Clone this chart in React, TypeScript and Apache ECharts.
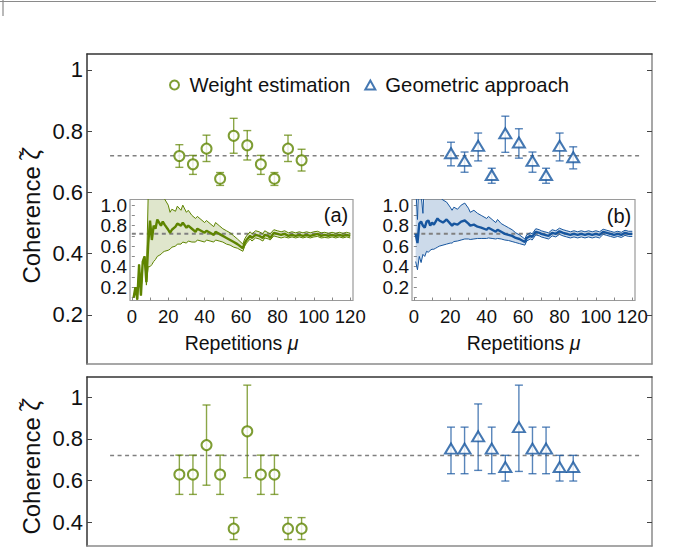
import React, { useEffect, useRef } from 'react';
import * as echarts from 'echarts';

const FONT = '"Liberation Sans", Arial, sans-serif';
const GREEN = '#5e8400';
const GREEN_BAR = 'rgba(94,132,0,0.72)';
const GREEN_FILL = 'rgba(94,132,0,0.2)';
const BLUE = '#17569f';
const BLUE_BAR = 'rgba(23,86,159,0.72)';
const BLUE_FILL = 'rgba(23,86,159,0.22)';

// ---- main panels: repetition positions (x) ----
const weightX = [7, 8, 9, 10, 11, 12, 13, 14, 15, 16];
const geomX = [27, 28, 29, 30, 31, 32, 33, 34, 35, 36];
const target = 0.72;
const targetSpan = [1.9, 41.0];

// top panel
const topWeightY = [0.719, 0.692, 0.743, 0.645, 0.785, 0.754, 0.692, 0.645, 0.743, 0.705];
const topWeightLo = [0.682, 0.659, 0.701, 0.623, 0.728, 0.706, 0.659, 0.623, 0.701, 0.67];
const topWeightHi = [0.756, 0.721, 0.787, 0.665, 0.842, 0.802, 0.721, 0.665, 0.787, 0.741];
const topGeomY = [0.728, 0.703, 0.752, 0.657, 0.793, 0.763, 0.703, 0.657, 0.752, 0.715];
const topGeomLo = [0.687, 0.666, 0.703, 0.63, 0.731, 0.712, 0.666, 0.63, 0.703, 0.677];
const topGeomHi = [0.764, 0.732, 0.794, 0.679, 0.849, 0.808, 0.732, 0.679, 0.794, 0.749];

// bottom panel
const botWeightY = [0.629, 0.629, 0.77, 0.629, 0.37, 0.836, 0.629, 0.629, 0.37, 0.37];
const botWeightLo = [0.534, 0.534, 0.578, 0.534, 0.318, 0.614, 0.534, 0.534, 0.318, 0.318];
const botWeightHi = [0.722, 0.722, 0.962, 0.722, 0.423, 1.057, 0.722, 0.722, 0.423, 0.423];
const botGeomY = [0.753, 0.753, 0.812, 0.753, 0.665, 0.856, 0.753, 0.753, 0.665, 0.665];
const botGeomLo = [0.633, 0.633, 0.649, 0.633, 0.598, 0.644, 0.633, 0.633, 0.598, 0.598];
const botGeomHi = [0.856, 0.856, 0.967, 0.856, 0.721, 1.057, 0.856, 0.856, 0.721, 0.721];

// tick labels
const mainTicks = [0.2, 0.4, 0.6, 0.8, 1.0];
const botTicks = [0.4, 0.6, 0.8, 1.0];
const insetYTicks = [0.2, 0.4, 0.6, 0.8, 1.0];
const insetYMinor = [0.1, 0.2, 0.3, 0.4, 0.5, 0.6, 0.7, 0.8, 0.9, 1.0];
const insetXTicks = [0, 20, 40, 60, 80, 100, 120];
const insetXMinor = [0, 10, 20, 30, 40, 50, 60, 70, 80, 90, 100, 110, 120];

// ---- inset (a): weight estimation running estimate ----
const aMu = [1, 2, 3, 4, 5, 6, 7, 8, 9, 10, 11, 12, 13, 14, 15, 16, 17, 18, 20, 21, 22, 24, 25, 27, 28, 30, 31, 33, 35, 36, 38, 40, 41, 43, 45, 46, 48, 50, 52, 54, 56, 58, 61, 62, 63, 65, 66, 68, 70, 72, 73, 75, 76, 78, 80, 82, 84, 86, 88, 90, 92, 94, 96, 98, 100, 102, 104, 106, 108, 110, 112, 114, 116, 118, 120];
const aMid = [0.1, 0.2, 0.08, 0.42, 0.12, 0.45, 0.5, 0.25, 0.62, 0.85, 0.66, 0.8, 0.77, 0.86, 0.83, 0.8, 0.84, 0.81, 0.76, 0.73, 0.76, 0.79, 0.82, 0.8, 0.83, 0.78, 0.8, 0.77, 0.74, 0.77, 0.75, 0.73, 0.75, 0.73, 0.71, 0.74, 0.72, 0.7, 0.68, 0.66, 0.64, 0.62, 0.58, 0.63, 0.66, 0.7, 0.68, 0.71, 0.7, 0.68, 0.71, 0.7, 0.68, 0.73, 0.72, 0.71, 0.72, 0.7, 0.71, 0.7, 0.71, 0.7, 0.71, 0.7, 0.71, 0.72, 0.7, 0.71, 0.7, 0.71, 0.7, 0.71, 0.7, 0.71, 0.7];
const aHi = [0.1, 0.2, 0.08, 0.42, 0.12, 0.45, 0.5, 0.3, 1.1, 1.3, 1.25, 1.25, 1.2, 1.2, 1.15, 1.12, 1.1, 1.06, 1.0, 0.93, 0.96, 0.94, 0.99, 0.95, 1.0, 0.93, 0.95, 0.9, 0.87, 0.89, 0.86, 0.83, 0.85, 0.82, 0.79, 0.83, 0.8, 0.77, 0.75, 0.73, 0.7, 0.67, 0.62, 0.67, 0.7, 0.74, 0.72, 0.75, 0.74, 0.72, 0.75, 0.73, 0.72, 0.76, 0.75, 0.74, 0.75, 0.73, 0.74, 0.73, 0.74, 0.73, 0.74, 0.73, 0.74, 0.745, 0.73, 0.735, 0.725, 0.735, 0.725, 0.735, 0.725, 0.735, 0.725];
const aLo = [0.1, 0.2, 0.08, 0.42, 0.12, 0.45, 0.5, 0.22, 0.4, 0.4, 0.42, 0.45, 0.47, 0.5, 0.51, 0.52, 0.54, 0.55, 0.56, 0.57, 0.59, 0.6, 0.62, 0.62, 0.64, 0.63, 0.65, 0.64, 0.64, 0.66, 0.65, 0.64, 0.66, 0.65, 0.64, 0.66, 0.65, 0.64, 0.62, 0.61, 0.59, 0.58, 0.55, 0.6, 0.63, 0.67, 0.65, 0.68, 0.67, 0.65, 0.68, 0.67, 0.66, 0.7, 0.69, 0.68, 0.69, 0.68, 0.69, 0.68, 0.69, 0.68, 0.69, 0.68, 0.69, 0.695, 0.68, 0.685, 0.68, 0.69, 0.68, 0.69, 0.68, 0.69, 0.68];

// ---- inset (b): geometric approach running estimate ----
const bMu = [1, 2, 3, 4, 5, 6, 7, 8, 9, 10, 11, 12, 13, 14, 16, 18, 20, 21, 22, 24, 26, 28, 30, 31, 33, 35, 37, 40, 41, 43, 45, 46, 48, 50, 52, 54, 56, 58, 61, 62, 64, 65, 67, 69, 70, 72, 74, 76, 78, 80, 82, 84, 86, 88, 90, 92, 94, 96, 98, 100, 102, 104, 106, 108, 110, 112, 114, 116, 118, 120];
const bMid = [0.72, 0.63, 0.82, 0.84, 0.8, 0.78, 0.84, 0.85, 0.8, 0.83, 0.81, 0.84, 0.87, 0.85, 0.83, 0.86, 0.82, 0.8, 0.82, 0.81, 0.84, 0.85, 0.82, 0.8, 0.81, 0.79, 0.78, 0.76, 0.78, 0.76, 0.74, 0.76, 0.74, 0.72, 0.71, 0.7, 0.68, 0.67, 0.64, 0.68, 0.7, 0.69, 0.74, 0.73, 0.72, 0.71, 0.7, 0.73, 0.72, 0.745, 0.73, 0.72, 0.71, 0.72, 0.71, 0.72, 0.71, 0.72, 0.71, 0.72, 0.71, 0.74, 0.73, 0.72, 0.71, 0.72, 0.71, 0.73, 0.72, 0.72];
const bHi = [1.2, 0.86, 1.3, 1.1, 0.92, 1.3, 1.1, 1.2, 1.1, 1.15, 1.12, 1.1, 1.12, 1.08, 1.05, 1.03, 0.98, 0.95, 0.98, 0.96, 1.0, 1.02, 0.97, 0.93, 0.95, 0.92, 0.9, 0.87, 0.89, 0.86, 0.83, 0.86, 0.82, 0.8, 0.78, 0.76, 0.73, 0.71, 0.67, 0.71, 0.73, 0.72, 0.77, 0.76, 0.75, 0.74, 0.73, 0.76, 0.75, 0.775, 0.76, 0.75, 0.74, 0.75, 0.74, 0.75, 0.74, 0.75, 0.74, 0.75, 0.74, 0.765, 0.755, 0.745, 0.735, 0.745, 0.735, 0.755, 0.745, 0.745];
const bLo = [0.45, 0.37, 0.5, 0.44, 0.52, 0.5, 0.55, 0.54, 0.56, 0.57, 0.57, 0.58, 0.59, 0.6, 0.61, 0.62, 0.63, 0.63, 0.645, 0.65, 0.66, 0.67, 0.67, 0.665, 0.67, 0.675, 0.675, 0.675, 0.68, 0.675, 0.67, 0.675, 0.67, 0.66, 0.655, 0.645, 0.635, 0.625, 0.61, 0.65, 0.67, 0.66, 0.71, 0.7, 0.69, 0.68, 0.67, 0.7, 0.69, 0.715, 0.7, 0.69, 0.68, 0.69, 0.68, 0.69, 0.68, 0.69, 0.68, 0.69, 0.68, 0.715, 0.705, 0.695, 0.685, 0.695, 0.685, 0.705, 0.695, 0.695];

const pairs = (xs: number[], ys: number[]) => xs.map((x, i) => [x, ys[i]]);
const triples = (xs: number[], lo: number[], hi: number[]) => xs.map((x, i) => [x, lo[i], hi[i]]);

const errRender = (color: string) => (params: any, api: any) => {
  const x = api.value(0);
  const lo = api.coord([x, api.value(1)]);
  const hi = api.coord([x, api.value(2)]);
  const st = { stroke: color, lineWidth: 1.4 };
  const c = 4;
  return {
    type: 'group',
    children: [
      { type: 'line', shape: { x1: lo[0], y1: lo[1], x2: hi[0], y2: hi[1] }, style: st },
      { type: 'line', shape: { x1: lo[0] - c, y1: lo[1], x2: lo[0] + c, y2: lo[1] }, style: st },
      { type: 'line', shape: { x1: hi[0] - c, y1: hi[1], x2: hi[0] + c, y2: hi[1] }, style: st },
    ],
  };
};

const bandRender = (mu: number[], lo: number[], hi: number[], fill: string) => (params: any, api: any) => {
  const pts: number[][] = [];
  for (let i = 0; i < mu.length; i++) pts.push(api.coord([mu[i], hi[i]]));
  for (let i = mu.length - 1; i >= 0; i--) pts.push(api.coord([mu[i], lo[i]]));
  const cs = params.coordSys;
  const top = cs.y;
  const bottom = cs.y + cs.height;
  const clipped = pts.map((p) => [p[0], Math.min(bottom, Math.max(top, p[1]))]);
  return { type: 'polygon', shape: { points: clipped }, style: { fill, stroke: 'none' }, silent: true };
};

const mainFmt = (v: number) => (Math.abs(v - 1) < 1e-9 ? '1' : v.toFixed(1));

function buildOption(): any {
  const xMain = (gi: number, pos: string, color: string) => ({
    type: 'value', gridIndex: gi, min: 0.2, max: 41.8, position: pos,
    axisLine: { show: true, onZero: false, lineStyle: { color, width: 1.5 } },
    axisTick: { show: false }, axisLabel: { show: false }, splitLine: { show: false },
  });
  const yMain = (gi: number, min: number, max: number, ticks: number[], pos: string, color: string, labels: boolean) => ({
    type: 'value', gridIndex: gi, min, max, position: pos,
    axisLine: { show: true, onZero: false, lineStyle: { color, width: 1.5 } },
    axisTick: { show: true, inside: true, length: 5, customValues: ticks, lineStyle: { color: '#444', width: 1 } },
    axisLabel: labels
      ? { show: true, customValues: ticks, formatter: mainFmt, fontSize: 22, color: '#111', fontFamily: FONT, margin: 4 }
      : { show: false },
    splitLine: { show: false },
  });
  const xInset = (gi: number) => ({
    type: 'value', gridIndex: gi, min: -1, max: 121.5,
    axisLine: { show: false },
    axisTick: { show: true, inside: true, length: 3, customValues: insetXMinor, lineStyle: { color: '#888' } },
    axisLabel: { show: true, customValues: insetXTicks, fontSize: 18.5, color: '#111', fontFamily: FONT, margin: 6 },
    splitLine: { show: false },
    name: '{a|Repetitions }{b|μ}', nameLocation: 'middle', nameGap: 32,
    nameTextStyle: {
      rich: {
        a: { fontSize: 19.5, color: '#111', fontFamily: FONT },
        b: { fontSize: 19.5, color: '#111', fontFamily: FONT, fontStyle: 'italic' },
      },
    },
  });
  const yInset = (gi: number) => ({
    type: 'value', gridIndex: gi, min: 0.07, max: 1.055,
    axisLine: { show: false },
    axisTick: { show: true, inside: true, length: 3, customValues: insetYMinor, lineStyle: { color: '#888' } },
    axisLabel: { show: true, customValues: insetYTicks, formatter: (v: number) => v.toFixed(1), fontSize: 19, color: '#111', fontFamily: FONT, margin: 3 },
    splitLine: { show: false },
  });

  const scatter = (name: string, xi: number, yi: number, xs: number[], ys: number[], sym: string, color: string, size: any) => ({
    type: 'scatter', name, xAxisIndex: xi, yAxisIndex: yi, data: pairs(xs, ys),
    symbol: sym, symbolSize: size, itemStyle: { color, borderWidth: 2.2 }, z: 5,
  });
  const errors = (xi: number, yi: number, xs: number[], lo: number[], hi: number[], color: string) => ({
    type: 'custom', xAxisIndex: xi, yAxisIndex: yi, renderItem: errRender(color),
    data: triples(xs, lo, hi), encode: { x: 0, y: [1, 2] }, z: 3, silent: true,
  });
  const dashed = (xi: number, yi: number, xs: number[], w: number) => ({
    type: 'line', xAxisIndex: xi, yAxisIndex: yi, data: xs.map((x) => [x, target]),
    showSymbol: false, silent: true, z: 2,
    lineStyle: { color: '#808080', width: w, type: [4, 3.5] },
  });
  const band = (xi: number, yi: number, mu: number[], lo: number[], hi: number[], fill: string) => ({
    type: 'custom', xAxisIndex: xi, yAxisIndex: yi, renderItem: bandRender(mu, lo, hi, fill),
    data: [[mu[0], lo[0]]], encode: { x: 0, y: 1 }, z: 1, silent: true, clip: false,
  });
  const line = (xi: number, yi: number, mu: number[], v: number[], color: string, w: number) => ({
    type: 'line', xAxisIndex: xi, yAxisIndex: yi, data: pairs(mu, v), showSymbol: false, silent: true,
    clip: true, z: 4, lineStyle: { color, width: w },
  });

  const coh = (y: number) => ({
    type: 'text', x: 31, y, rotation: Math.PI / 2,
    style: {
      text: '{n|Coherence }{z|ζ\u0303}', align: 'center', verticalAlign: 'middle',
      rich: {
        n: { fontSize: 24, fill: '#111', fontFamily: FONT },
        z: { fontSize: 24, fill: '#111', fontFamily: FONT, fontStyle: 'italic' },
      },
    },
  });

  return {
    animation: false,
    backgroundColor: '#fff',
    textStyle: { fontFamily: FONT },
    grid: [
      { left: 87, top: 54, width: 565, height: 310 },
      { left: 87, top: 377, width: 565, height: 169 },
      { left: 130, top: 199.5, width: 223, height: 101, show: true, backgroundColor: '#fff', borderColor: '#9a9a9a', borderWidth: 1.2 },
      { left: 412, top: 199.5, width: 223, height: 101, show: true, backgroundColor: '#fff', borderColor: '#9a9a9a', borderWidth: 1.2 },
    ],
    legend: {
      data: [
        { name: 'Weight estimation', icon: 'emptyCircle' },
        { name: 'Geometric approach', icon: 'emptyTriangle' },
      ],
      left: 164, top: 70, itemWidth: 10, itemHeight: 9, itemGap: 14,
      textStyle: { fontSize: 20.3, color: '#111', fontFamily: FONT, padding: [0, 0, 0, 5] },
    },
    xAxis: [
      xMain(0, 'bottom', '#8a8a8a'),
      xMain(0, 'top', '#333'),
      xMain(1, 'bottom', '#8a8a8a'),
      xMain(1, 'top', '#333'),
      xInset(2),
      xInset(3),
    ],
    yAxis: [
      yMain(0, 0.04, 1.052, mainTicks, 'left', '#333', true),
      yMain(0, 0.04, 1.052, mainTicks, 'right', '#8a8a8a', false),
      yMain(1, 0.287, 1.096, botTicks, 'left', '#333', true),
      yMain(1, 0.287, 1.096, botTicks, 'right', '#8a8a8a', false),
      yInset(2),
      yInset(3),
    ],
    graphic: [
      { type: 'line', shape: { x1: 0, y1: 1.5, x2: 656, y2: 1.5 }, style: { stroke: '#8a8a8a', lineWidth: 1.2 } },
      { type: 'line', shape: { x1: 3, y1: 0, x2: 3, y2: 16 }, style: { stroke: '#8a8a8a', lineWidth: 1.2 } },
      coh(216),
      coh(467),
      { type: 'text', x: 336, y: 215, z: 10, style: { text: '(a)', fontSize: 20, fill: '#111', fontFamily: FONT, align: 'center', verticalAlign: 'middle' } },
      { type: 'text', x: 619, y: 216, z: 10, style: { text: '(b)', fontSize: 20, fill: '#111', fontFamily: FONT, align: 'center', verticalAlign: 'middle' } },
    ],
    series: [
      // top panel
      dashed(0, 0, targetSpan, 1.6),
      errors(0, 0, weightX, topWeightLo, topWeightHi, GREEN_BAR),
      errors(0, 0, geomX, topGeomLo, topGeomHi, BLUE_BAR),
      scatter('Weight estimation', 0, 0, weightX, topWeightY, 'emptyCircle', GREEN, 10),
      scatter('Geometric approach', 0, 0, geomX, topGeomY, 'emptyTriangle', BLUE, [12, 10]),
      // bottom panel
      dashed(2, 2, targetSpan, 1.6),
      errors(2, 2, weightX, botWeightLo, botWeightHi, GREEN_BAR),
      errors(2, 2, geomX, botGeomLo, botGeomHi, BLUE_BAR),
      scatter('Weight estimation', 2, 2, weightX, botWeightY, 'emptyCircle', GREEN, 10),
      scatter('Geometric approach', 2, 2, geomX, botGeomY, 'emptyTriangle', BLUE, [12, 10]),
      // inset (a)
      band(4, 4, aMu, aLo, aHi, GREEN_FILL),
      dashed(4, 4, [0, 120], 2),
      line(4, 4, aMu, aHi, GREEN, 1),
      line(4, 4, aMu, aLo, GREEN, 1),
      line(4, 4, aMu, aMid, GREEN, 2.4),
      // inset (b)
      band(5, 5, bMu, bLo, bHi, BLUE_FILL),
      dashed(5, 5, [0, 120], 2),
      line(5, 5, bMu, bHi, BLUE, 1),
      line(5, 5, bMu, bLo, BLUE, 1),
      line(5, 5, bMu, bMid, BLUE, 2.4),
    ],
  };
}

export default function App() {
  const ref = useRef<HTMLDivElement>(null);
  useEffect(() => {
    if (!ref.current) return;
    const chart = echarts.init(ref.current, undefined, { renderer: 'svg' });
    chart.setOption(buildOption());
    return () => chart.dispose();
  }, []);
  return <div ref={ref} style={{ position: 'fixed', left: 0, top: 0, width: 678, height: 550, background: '#fff' }} />;
}
